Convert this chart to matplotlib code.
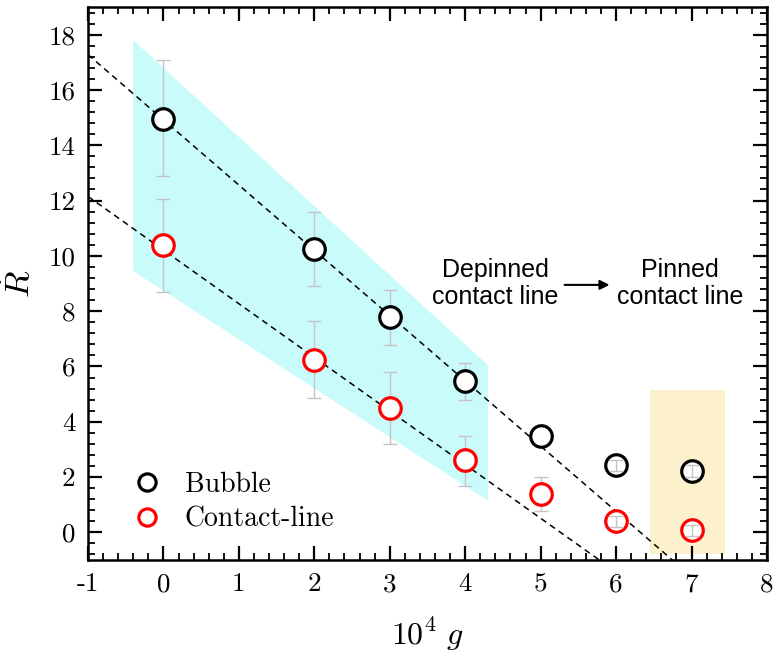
import numpy as np
import matplotlib
matplotlib.use('Agg')
import matplotlib.pyplot as plt
from matplotlib.patches import Polygon, Rectangle

plt.rcParams['font.family'] = 'cmr10'
plt.rcParams['mathtext.fontset'] = 'cm'
plt.rcParams['axes.unicode_minus'] = False

g = [0, 2, 3, 4, 5, 6, 7]
bubble = [14.95, 10.25, 7.78, 5.47, 3.5, 2.43, 2.22]
bubble_lo = [12.9, 8.9, 6.78, 4.78, 3.5, 2.23, 2.02]
bubble_hi = [17.07, 11.6, 8.78, 6.12, 3.5, 2.63, 2.42]
contact = [10.4, 6.25, 4.49, 2.61, 1.4, 0.4, 0.07]
contact_lo = [8.7, 4.85, 3.19, 1.68, 0.76, 0.2, -0.13]
contact_hi = [12.07, 7.65, 5.8, 3.49, 2.0, 0.6, 0.27]

# linear fits drawn as dashed guides
bubble_fit = (14.92, -2.36)
contact_fit = (10.21, -1.94)

# shaded regions
depinned_x = [-0.4, 4.3, 4.3, -0.4]
depinned_y = [17.8, 6.05, 1.15, 9.45]
pinned_box = (6.45, -0.77, 1.0, 5.91)

fig = plt.figure(figsize=(7.73, 6.6), dpi=100)
ax = fig.add_axes([0.1138, 0.1515, 0.8784, 0.8379])

ax.add_patch(Polygon(np.column_stack([depinned_x, depinned_y]), closed=True,
                     facecolor='#c9fbfb', edgecolor='none', zorder=0))
ax.add_patch(Rectangle(pinned_box[:2], pinned_box[2], pinned_box[3],
                       facecolor='#fdf0cd', edgecolor='none', zorder=0))

xs = np.linspace(-1, 8, 200)
ax.plot(xs, bubble_fit[0] + bubble_fit[1] * xs, 'k--', lw=1.1, dashes=(4, 3), zorder=1)
ax.plot(xs, contact_fit[0] + contact_fit[1] * xs, 'k--', lw=1.1, dashes=(4, 3), zorder=1)

g = np.array(g)
ebar = dict(fmt='none', ecolor='#c4c4c4', elinewidth=1, capsize=5, capthick=1)
for y, lo, hi in [(bubble, bubble_lo, bubble_hi), (contact, contact_lo, contact_hi)]:
    y = np.array(y)
    err = np.array([y - np.array(lo), np.array(hi) - y])
    # big bars sit under the markers, the small ones show through on top
    ax.errorbar(g[:5], y[:5], yerr=err[:, :5], zorder=2, **ebar)
    ax.errorbar(g[5:], y[5:], yerr=err[:, 5:], zorder=4, **ebar)

ax.plot(g, bubble, 'o', ms=15.5, mfc='white', mec='k', mew=2.3, zorder=3, label='Bubble')
ax.plot(g, contact, 'o', ms=15.5, mfc='white', mec='red', mew=2.3, zorder=3, label='Contact-line')

ax.text(4.4, 9.0, 'Depinned\ncontact line', family='Liberation Sans', fontsize=18,
        ha='center', va='center', linespacing=1.15)
ax.text(6.85, 9.0, 'Pinned\ncontact line', family='Liberation Sans', fontsize=18,
        ha='center', va='center', linespacing=1.15)
ax.annotate('', xy=(5.95, 8.95), xytext=(5.28, 8.95),
            arrowprops=dict(arrowstyle='-|>', color='k', lw=1.5, mutation_scale=14))

ax.set_xlim(-1, 8)
ax.set_ylim(-1, 19)
ax.set_xticks(range(-1, 9))
ax.set_yticks(range(0, 19, 2))
ax.set_xticks(np.arange(-1, 8.01, 0.2), minor=True)
ax.set_yticks(np.arange(-0.8, 19, 0.4), minor=True)
ax.tick_params(which='both', direction='in', top=True, right=True, labelsize=19.5, pad=9)
ax.tick_params(which='major', length=10, width=1.6)
ax.tick_params(which='minor', length=5, width=1.3)
for s in ax.spines.values():
    s.set_linewidth(1.8)

ax.set_xlabel(r'$10^4\ g$', fontsize=23, labelpad=14)
ax.set_ylabel(r'$\dot{R}$', fontsize=25, labelpad=8)

ax.legend(loc='lower left', bbox_to_anchor=(0.02, 0.005), frameon=False, fontsize=20,
          markerscale=0.8, handletextpad=0.6, labelspacing=0.3, handlelength=1.5)

fig.savefig('out.png', dpi=100)
